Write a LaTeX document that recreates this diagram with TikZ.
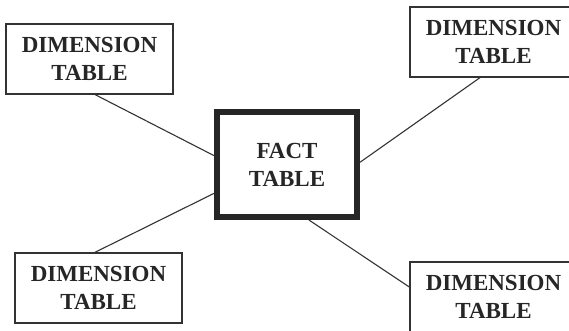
\documentclass[tikz,border=0pt]{standalone}
\usepackage{fontspec}
\setmainfont{Liberation Serif}
\usetikzlibrary{calc}
\begin{document}
\begin{tikzpicture}[x=1bp, y=-1bp,
  every node/.style={font=\fontsize{23bp}{28bp}\selectfont\bfseries, align=center, text=black!85},
  dimbox/.style={draw=black!80, line width=1.2bp, fill=white, minimum width=167bp, minimum height=70bp, inner sep=0pt},
  factbox/.style={draw=black!85, line width=6bp, fill=white, minimum width=140bp, minimum height=105bp, inner sep=0pt},
  link/.style={draw=black!80, line width=1.1bp}]
  \useasboundingbox (0,0) rectangle (569,330);
  \clip (0,0) rectangle (569,330);
  \fill[white] (0,0) rectangle (569,330);

  % central fact table
  \node[factbox] (fact) at (287,164.5) {FACT\\TABLE};

  % dimension tables around it
  \node[dimbox] (dtl) at (89.5,59)  {DIMENSION\\TABLE};
  \node[dimbox] (dtr) at (493.5,42) {DIMENSION\\TABLE};
  \node[dimbox] (dbl) at (98.5,288) {DIMENSION\\TABLE};
  \node[dimbox] (dbr) at (493.5,297) {DIMENSION\\TABLE};

  % connectors from each dimension table to the fact table
  \draw[link] ($(dtl.south west)!0.533!(dtl.south east)$) -- ($(fact.north west)!0.42!(fact.south west)$);
  \draw[link] ($(dbl.north west)!0.478!(dbl.north east)$) -- ($(fact.north west)!0.76!(fact.south west)$);
  \draw[link] ($(dtr.south west)!0.42!(dtr.south east)$) -- ($(fact.north east)!0.48!(fact.south east)$);
  \draw[link] ($(fact.south west)!0.65!(fact.south east)$) -- ($(dbr.north west)!0.36!(dbr.south west)$);
\end{tikzpicture}
\end{document}
